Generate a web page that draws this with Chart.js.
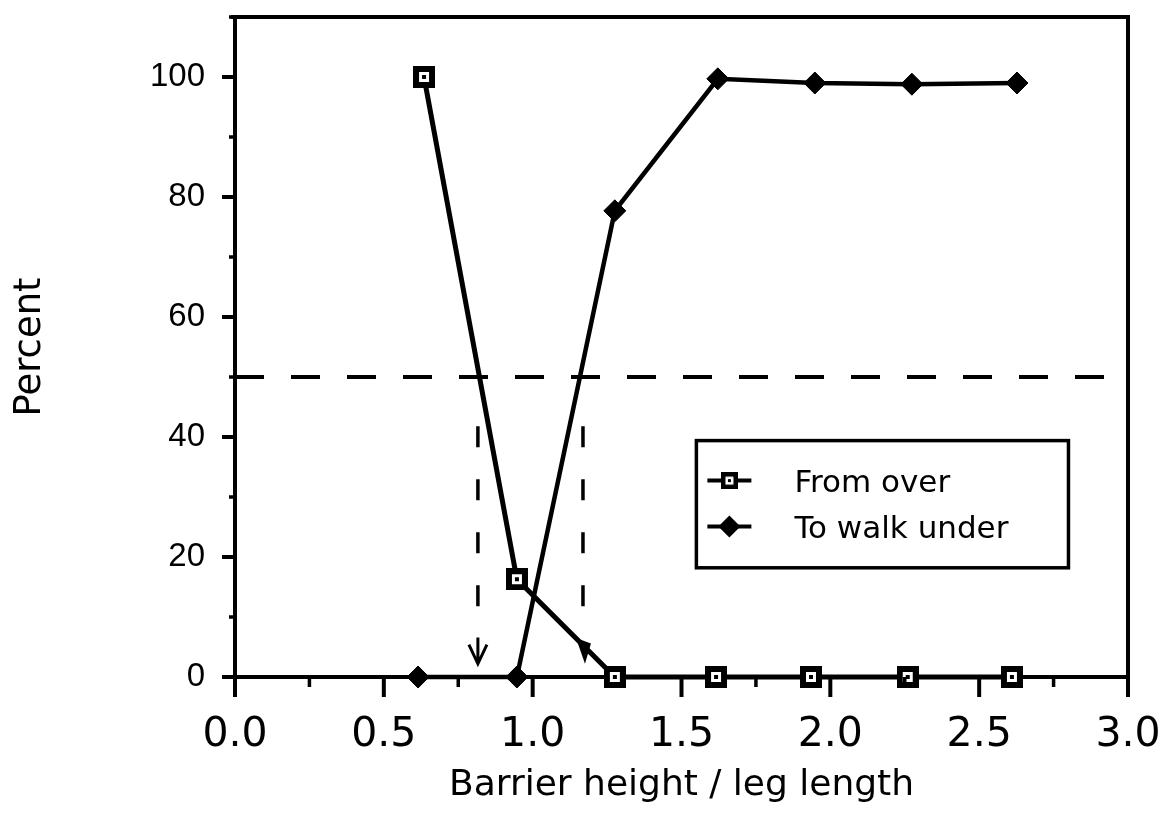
<!DOCTYPE html>
<html>
<head>
<meta charset="utf-8">
<script src="https://cdn.jsdelivr.net/npm/chart.js@4.4.1/dist/chart.umd.min.js"></script>
<style>
  html, body { margin: 0; background: #fff; }
  #wrap { width: 1165px; height: 821px; }
</style>
</head>
<body>
<div id="wrap"><canvas id="barrierChart"></canvas></div>
<script>
const seriesNames = ['From over', 'To walk under'];
const overX = [0.635, 0.947, 1.276, 1.616, 1.935, 2.26, 2.61];
const overPct = [100, 16.3, 0, 0, 0, 0, 0];
const underX = [0.615, 0.947, 1.276, 1.622, 1.948, 2.274, 2.627];
const underPct = [0, 0, 77.7, 99.7, 99, 98.8, 99];
const halfLevel = 50;
const crossX = [0.816, 1.169];
const dashSpan = [11.8, 42.2];

const ink = '#000';
const chartID = document.getElementById('barrierChart');

// square marker with a white hole and a dot in the middle
function squareMarker(size) {
  const c = document.createElement('canvas');
  c.width = size; c.height = size;
  const g = c.getContext('2d');
  g.fillStyle = ink;
  g.fillRect(0, 0, size, size);
  const hole = Math.round(size * 0.46);
  const h0 = (size - hole) / 2;
  g.fillStyle = '#fff';
  g.fillRect(h0, h0, hole, hole);
  const dot = Math.max(3, Math.round(size * 0.18));
  g.fillStyle = ink;
  g.fillRect((size - dot) / 2, (size - dot) / 2, dot, dot);
  return c;
}
const squareBig = squareMarker(22);
const squareSmall = squareMarker(17);

function toPoints(xs, ys) {
  return xs.map((x, i) => ({ x: x, y: ys[i] }));
}

function dropLine(x) {
  return {
    label: 'drop',
    data: [{ x: x, y: dashSpan[0] }, { x: x, y: dashSpan[1] }],
    showLine: true,
    borderColor: ink,
    borderWidth: 3.5,
    borderDash: [21, 32],
    pointRadius: 0
  };
}

const frame = {
  id: 'frame',
  afterDraw(chart) {
    const ctx = chart.ctx;
    const a = chart.chartArea;
    const xs = chart.scales.x, ys = chart.scales.y;
    ctx.save();
    ctx.strokeStyle = ink;
    ctx.lineWidth = 4;
    // top and right edges of the box
    ctx.beginPath();
    ctx.moveTo(a.left - 4, a.top);
    ctx.lineTo(a.right, a.top);
    ctx.lineTo(a.right, a.bottom + 2);
    ctx.stroke();

    // tick marks, long for labelled ones
    ys.ticks.forEach(t => {
      const py = ys.getPixelForValue(t.value);
      const major = t.value % 20 === 0;
      ctx.lineWidth = major ? 4 : 3.5;
      ctx.beginPath();
      ctx.moveTo(a.left - (major ? 13 : 6), py);
      ctx.lineTo(a.left, py);
      ctx.stroke();
    });
    xs.ticks.forEach(t => {
      const px = xs.getPixelForValue(t.value);
      const major = Math.abs(t.value * 2 - Math.round(t.value * 2)) < 1e-6;
      ctx.lineWidth = major ? 4 : 3.5;
      ctx.beginPath();
      ctx.moveTo(px, a.bottom);
      ctx.lineTo(px, a.bottom + (major ? 20 : 10));
      ctx.stroke();
    });

    // arrow heads under the dashed drop lines
    const lx = xs.getPixelForValue(crossX[0]);
    ctx.lineWidth = 3;
    ctx.beginPath();
    ctx.moveTo(lx, ys.getPixelForValue(6.6));
    ctx.lineTo(lx, ys.getPixelForValue(2.2));
    ctx.moveTo(lx - 9, ys.getPixelForValue(5.4));
    ctx.lineTo(lx, ys.getPixelForValue(2.2));
    ctx.lineTo(lx + 9, ys.getPixelForValue(5.4));
    ctx.stroke();
    const rx = xs.getPixelForValue(crossX[1]);
    ctx.fillStyle = ink;
    ctx.beginPath();
    ctx.moveTo(rx - 7, ys.getPixelForValue(6.5));
    ctx.lineTo(rx + 8, ys.getPixelForValue(5.6));
    ctx.lineTo(rx + 2, ys.getPixelForValue(2.2));
    ctx.closePath();
    ctx.fill();

    // legend box inside the plot
    const bx = xs.getPixelForValue(1.55), bx2 = xs.getPixelForValue(2.8);
    const by = ys.getPixelForValue(39.4), by2 = ys.getPixelForValue(18.2);
    ctx.lineWidth = 3.5;
    ctx.strokeRect(bx, by, bx2 - bx, by2 - by);
    const rows = [by + 40, by + 86];
    ctx.font = '31px "DejaVu Sans", sans-serif';
    ctx.textBaseline = 'middle';
    ctx.textAlign = 'left';
    rows.forEach((ry, i) => {
      ctx.lineWidth = 4;
      ctx.beginPath();
      ctx.moveTo(bx + 11, ry);
      ctx.lineTo(bx + 55, ry);
      ctx.stroke();
      const cx = bx + 33;
      if (i === 0) {
        ctx.drawImage(squareSmall, cx - 8.5, ry - 8.5);
      } else {
        ctx.beginPath();
        ctx.moveTo(cx, ry - 11);
        ctx.lineTo(cx + 11, ry);
        ctx.lineTo(cx, ry + 11);
        ctx.lineTo(cx - 11, ry);
        ctx.closePath();
        ctx.fill();
      }
      ctx.fillText(seriesNames[i], bx + 98, ry + 3);
    });
    ctx.restore();
  }
};

var chart = new Chart(chartID, {
  type: 'scatter',
  data: {
    datasets: [
      {
        label: seriesNames[0],
        data: toPoints(overX, overPct),
        showLine: true,
        borderColor: ink,
        borderWidth: 5,
        pointStyle: squareBig,
        backgroundColor: ink,
        clip: false
      },
      {
        label: seriesNames[1],
        data: toPoints(underX, underPct),
        showLine: true,
        borderColor: ink,
        borderWidth: 4.5,
        pointStyle: 'rectRot',
        pointRadius: 11,
        pointBorderWidth: 1,
        backgroundColor: ink,
        clip: false
      },
      {
        label: '50%',
        data: [{ x: 0, y: halfLevel }, { x: 3, y: halfLevel }],
        showLine: true,
        borderColor: ink,
        borderWidth: 4,
        borderDash: [29, 27],
        pointRadius: 0
      },
      dropLine(crossX[0]),
      dropLine(crossX[1])
    ]
  },
  options: {
    responsive: true,
    maintainAspectRatio: false,
    animation: false,
    layout: { padding: { top: 17, right: 37, left: 0, bottom: 0 } },
    plugins: {
      legend: { display: false },
      tooltip: { enabled: false }
    },
    scales: {
      x: {
        type: 'linear',
        min: 0,
        max: 3,
        afterFit: s => { s.height = 144; s.paddingLeft = 0; s.paddingRight = 0; },
        grid: { display: false, drawTicks: false },
        border: { display: true, color: ink, width: 4 },
        ticks: {
          stepSize: 0.25,
          padding: 34,
          color: ink,
          maxRotation: 0,
          autoSkip: false,
          font: { family: '"DejaVu Sans", sans-serif', size: 41 },
          callback: v => (Math.abs(v * 2 - Math.round(v * 2)) < 1e-6 ? v.toFixed(1) : '')
        },
        title: {
          display: true,
          text: 'Barrier height / leg length',
          color: ink,
          padding: { top: 0, bottom: 14 },
          font: { family: '"DejaVu Sans", sans-serif', size: 36 }
        }
      },
      y: {
        min: 0,
        max: 110,
        afterFit: s => { s.width = 235; s.paddingTop = 0; s.paddingBottom = 0; },
        grid: { display: false, drawTicks: false },
        border: { display: true, color: ink, width: 4 },
        ticks: {
          stepSize: 10,
          padding: 30,
          color: ink,
          autoSkip: false,
          font: { family: '"Liberation Sans", Arial, sans-serif', size: 33 },
          callback: v => (v % 20 === 0 ? String(v) : '')
        },
        title: {
          display: true,
          text: 'Percent',
          color: ink,
          padding: { top: 8, bottom: 0 },
          font: { family: '"DejaVu Sans", sans-serif', size: 37 }
        }
      }
    }
  },
  plugins: [frame]
});
</script>
</body>
</html>
